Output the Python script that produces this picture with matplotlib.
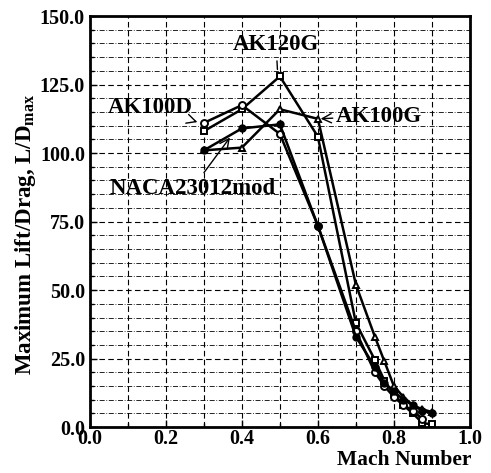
import numpy as np
import matplotlib
matplotlib.use("Agg")
import matplotlib.pyplot as plt
from matplotlib.ticker import MultipleLocator, FormatStrFormatter

plt.rcParams['font.family'] = ['Liberation Serif', 'DejaVu Serif']
plt.rcParams['font.weight'] = 'bold'
plt.rcParams['mathtext.fontset'] = 'custom'
plt.rcParams['mathtext.bf'] = 'Liberation Serif:bold'
plt.rcParams['mathtext.rm'] = 'Liberation Serif:bold'

# data
mach = [0.3, 0.4, 0.5, 0.6, 0.7, 0.75, 0.775, 0.8, 0.825, 0.85, 0.875, 0.9]
ak120g = [108, 116, 128, 106, 38, 24.5, 17, 12, 8, 5, 1.5, 1]
ak100g = [101, 102, 116, 112.5, 52, 33, 24, 15, 11, 8, 6.5, 5.5]
ak100d = [111, 117.5, 107, 73.5, 35, 20, 15, 11, 8, 6, 3]
naca = [101, 109, 110.5, 73.5, 33, 22, 16, 13, 10, 8, 6, 5]

fig = plt.figure(figsize=(4.91, 4.73), dpi=100)
ax = fig.add_axes([0.183, 0.097, 0.774, 0.869])

kw = dict(color='black', lw=1.8, markersize=5)
ax.plot(mach, ak120g, marker='s', mfc='white', mew=1.4, **kw)
ax.plot(mach, ak100g, marker='^', mfc='white', mew=1.4, **kw)
ax.plot(mach[:len(ak100d)], ak100d, marker='o', mfc='white', mew=1.4, **kw)
ax.plot(mach, naca, marker='o', mfc='black', **kw)

ax.set_xlim(0, 1.0)
ax.set_ylim(0, 150)
ax.xaxis.set_major_locator(MultipleLocator(0.2))
ax.xaxis.set_minor_locator(MultipleLocator(0.1))
ax.yaxis.set_major_locator(MultipleLocator(25))
ax.yaxis.set_minor_locator(MultipleLocator(5))
ax.xaxis.set_major_formatter(FormatStrFormatter('%.1f'))
ax.yaxis.set_major_formatter(FormatStrFormatter('%.1f'))

ax.grid(which='major', axis='both', ls=(0, (5, 3)), color='black', lw=0.8)
ax.grid(which='minor', axis='x', ls=(0, (5, 3)), color='black', lw=0.8)
ax.grid(which='minor', axis='y', ls=(0, (6, 2, 1, 2)), color='black', lw=0.6)
ax.set_axisbelow(True)

for s in ax.spines.values():
    s.set_linewidth(2)
ax.tick_params(which='both', direction='in', width=1, labelsize=14.5)
ax.tick_params(which='major', length=5)
ax.tick_params(which='minor', length=3)
ax.tick_params(axis='x', pad=1)

ax.set_xlabel('Mach Number', fontsize=15.5, fontweight='bold', ha='right')
ax.xaxis.set_label_coords(1.005, -0.055)
ax.set_ylabel(r'Maximum Lift/Drag, L/D$_{\mathbf{max}}$', fontsize=16.5,
              fontweight='bold')
ax.yaxis.set_label_coords(-0.137, 0.47)

tk = dict(fontsize=16.5, fontweight='bold', ha='center', va='center')
ax.annotate('AK120G', xy=(0.494, 129.5), xytext=(0.49, 139.5),
            arrowprops=dict(arrowstyle='-', color='black', lw=1), **tk)
ax.annotate('AK100D', xy=(0.29, 111), xytext=(0.16, 116.8),
            arrowprops=dict(arrowstyle='->', color='black', lw=1, shrinkA=2),
            **tk)
ax.annotate('AK100G', xy=(0.6, 112.5), xytext=(0.76, 113.5),
            arrowprops=dict(arrowstyle='->', color='black', lw=1, shrinkA=0),
            **tk)
ax.annotate('NACA23012mod', xy=(0.373, 106.5), xytext=(0.27, 87.2),
            arrowprops=dict(arrowstyle='->', color='black', lw=1, shrinkA=2),
            **tk)

fig.savefig('out.png', dpi=100)
